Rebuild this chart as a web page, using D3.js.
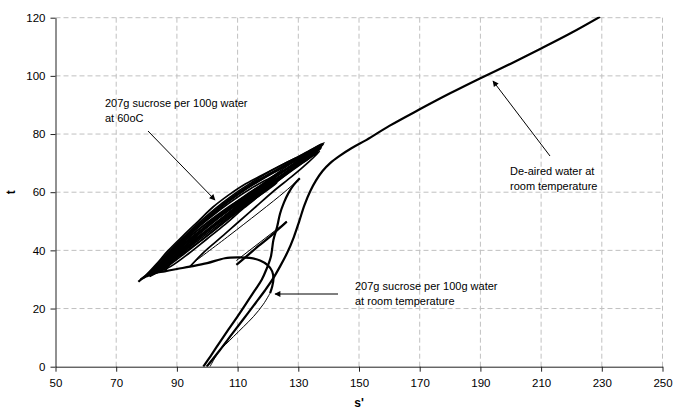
<!DOCTYPE html>
<html>
<head>
<meta charset="utf-8" />
<title>s' against t</title>
<style>
    body { margin: 0; background: #fff; }
    text { font-family: "Liberation Sans", Arial, sans-serif; fill: #000; }
</style>
</head>
<body>
<svg width="675" height="416"></svg>

<script src="https://cdn.jsdelivr.net/npm/d3@7"></script>
<script>

    // axis ticks
    var xTicks = [50, 70, 90, 110, 130, 150, 170, 190, 210, 230, 250];
    var yTicks = [0, 20, 40, 60, 80, 100, 120];

    // de-aired water, room temperature  [s', t]
    var deairedWater = [
        [99.8, 0], [104, 5.5], [108, 11], [112, 16.5], [116, 22], [119, 26.2], [121.5, 30],
        [124, 34.5], [126.5, 39.5], [128.5, 44.5], [130.3, 50], [132, 55.5], [134, 60.5],
        [135.8, 64], [138, 67.3], [140.5, 70], [143.5, 72.4], [147.5, 75.1], [152.5, 78],
        [160, 82.8], [170, 88.5], [180, 94], [190, 99.2], [200, 104.2], [210, 109.4],
        [220, 114.8], [229.4, 120.3]
    ];

    // 207g sucrose / 100g water, room temperature
    var roomLoad1 = [
        [98.7, 0], [101, 3.5], [104, 8.2], [107, 12.8], [110, 17.3], [113, 22], [115.5, 26],
        [117.9, 29.8], [119.5, 33.5], [121, 38], [121.8, 43.6], [123, 48], [124, 52.7],
        [125.3, 56.5], [126.7, 59.6], [128.5, 62.5], [130.5, 64.8]
    ];
    var roomUnload1 = [[130.5, 64.8], [125.6, 60.2], [107.5, 45.3], [95.3, 35.7]];
    var roomLoad2 = [[109.6, 35], [113, 38], [117, 41.6], [121, 45], [124, 47.8], [126.2, 49.9]];
    var roomUnload2 = [[126.2, 49.9], [109.6, 36.5]];
    var roomArc = [
        [77.3, 29.2], [79, 30.6], [82, 32], [86, 32.8], [90, 33.6], [94.3, 34.4], [100, 35.6],
        [105.8, 37.3], [110, 37.6], [114, 37.4], [117.4, 36.5], [119.8, 35], [121.4, 32.8],
        [121.8, 30], [121.4, 27.6], [120.7, 25.3]
    ];
    var roomTail = [
        [120.7, 25.3], [118.5, 21.5], [115.2, 17.2], [112, 13.8], [108.6, 10.3], [106, 7.6],
        [104.2, 5.7], [102.5, 3], [100.9, 0]
    ];

    // 207g sucrose / 100g water, 60oC : repeated cycles
    var hotCycles = [
        [[78, 30], [82, 33.5], [86, 38], [90, 42.3], [95, 47.3], [100, 52], [105, 56.3], [110, 60.2],
         [115, 63.6], [120, 66.8], [125, 69.6], [130, 72.2], [134, 74.5], [137.8, 76.6],
         [133, 73.8], [127, 69.5], [121, 65], [115, 60.3], [109, 55.5], [103, 50.5], [97, 45.3],
         [91, 40], [86, 35.5], [81, 31.5]],
        [[81, 31.5], [85, 36.2], [90, 41.5], [95, 46.4], [100, 51], [105, 55.3], [110, 59.2],
         [115, 62.8], [120, 66], [125, 69], [130, 71.8], [135, 74.6], [138.2, 76.4],
         [132, 72.4], [126, 68], [120, 63.4], [114, 58.7], [108, 53.8], [102, 48.8], [96, 43.7],
         [90, 38.6], [85, 34.4], [80, 31]],
        [[80, 31], [84, 34.8], [89, 40], [94, 45], [99, 49.6], [104, 53.8], [109, 57.6], [114, 61],
         [119, 64], [124, 66.8], [129, 69.6], [134, 72.6], [137, 74.8],
         [131, 70.4], [125, 66], [119, 61.6], [113, 57], [107, 52.3], [101, 47.4], [95, 42.4],
         [89, 37.4], [84, 33.6], [80, 31]],
        [[80, 31], [85, 35.6], [90, 40.6], [95, 45.3], [100, 49.6], [105, 53.5], [110, 57],
         [115, 60], [119, 62.2], [122.8, 63.8],
         [117, 59.4], [111, 54.6], [105, 49.8], [99, 45], [93, 40.2], [87, 35.4], [82, 32]],
        [[82, 32], [87, 37], [92, 41.8], [97, 46], [102, 50], [107, 53.8], [112, 57.2], [117, 60.2],
         [123, 63.2],
         [116, 58], [110, 53.3], [104, 48.4], [98, 43.4], [92, 38.5], [86, 33.8], [81, 31]],
        [[81, 31], [86, 36.8], [91, 42.2], [96, 47.2], [101, 51.8], [106, 56], [111, 59.8],
         [116, 63.2], [121, 66.3], [126, 69.2], [131, 72], [136, 75], [138, 76.2],
         [131, 71.2], [124, 66.6], [117, 61.8], [110, 56.8], [103, 51.6], [96, 46.2], [89, 40.6],
         [83, 33.4], [79, 30.6]],
        [[86, 32.8], [89, 37], [93, 41.8], [98, 46.6], [103, 51], [108, 55], [113, 58.6], [118, 61.9],
         [123, 65], [128, 68], [133, 71.2], [137.5, 75.2],
         [131, 70.6], [125, 66.4], [119, 62], [113, 57.4], [107, 52.6], [101, 47.6], [95, 42.2],
         [89, 36.6], [84, 32.5]],
        [[94.3, 34.4], [99, 39.5], [104.8, 44.7], [110, 49.5], [116, 55], [122, 60.5], [128, 65.5],
         [133, 70], [137, 74],
         [130, 69], [122, 63], [114, 57], [106, 51], [98, 45], [90, 38.5], [83, 32.5]],
        [[80, 31], [86, 36.5], [92, 41], [98, 45.5], [104, 50], [110, 54.5], [116, 59], [122, 63.5],
         [128, 68], [133, 71.8], [137.6, 75.6],
         [130, 69.4], [122, 62.8], [114, 56.4], [106, 50], [100, 45], [94, 40.5], [88, 36], [82, 32]],
        [[84, 32.6], [88, 36.4], [94, 41.5], [100, 46.5], [106, 51.5], [112, 56], [118, 60.5],
         [123, 64],
         [118, 59.5], [112, 54.5], [106, 49], [100, 44], [94, 39], [88, 34.5], [83, 32.2]],
        [[79, 30.5], [83, 35], [87, 39.8], [92, 45], [97, 50], [102, 55], [107, 59], [112, 62.5],
         [117, 65.3], [122, 68], [127, 70.6], [132, 73.2], [136, 75.6], [138.5, 77],
         [132, 72], [124, 66.5], [116, 61], [108, 55], [100, 48.5], [92, 42], [85, 36], [80, 31.5]],
        [[82, 32], [87, 38.4], [92, 43.8], [97, 48.6], [102, 53], [107, 57], [112, 60.6], [117, 63.8],
         [122, 66.8], [127, 69.6], [132, 72.4], [137, 75.4],
         [129, 69.8], [121, 64.2], [113, 58.2], [105, 52.2], [97, 46.2], [90, 40.4], [84, 34.6]],
        [[81, 31.2], [86, 37.4], [91, 43], [96, 47.8], [101, 52.4], [106, 56.6], [111, 60.4],
         [116, 63.8], [121, 66.6], [126, 69.4], [131, 72.2], [137.2, 76],
         [130, 70.8], [123, 65.6], [116, 60.2], [109, 54.4], [102, 48.4], [95, 42.6], [88, 37], [81, 31.2]],
        [[83, 32.4], [88, 37.6], [93, 42.4], [98, 47], [103, 51.4], [108, 55.4], [113, 59.2],
         [118, 62.6], [122.5, 65],
         [116, 60.6], [109, 55.6], [102, 50.2], [95, 44.6], [89, 39], [83, 33]]
    ];

    var notes = [
        { lines: ["207g sucrose per 100g water", "at 60oC"], at: [105, 107], from: [148, 131], to: [215, 200] },
        { lines: ["207g sucrose per 100g water", "at room temperature"], at: [355, 290], from: [338, 294], to: [275, 294] },
        { lines: ["De-aired water at", "room temperature"], at: [510, 175], from: [550, 156], to: [493, 81] }
    ];

    var svg = d3.select('svg');
    var plotL = 55.5, plotR = 662.5, plotT = 17.7, plotB = 366.7;

    var x = d3.scaleLinear().domain([50, 250]).range([plotL, plotR]);
    var y = d3.scaleLinear().domain([0, 120]).range([plotB, plotT]);

    var defs = svg.append('defs');
    defs.append('clipPath').attr('id', 'plot')
        .append('rect').attr('x', plotL).attr('y', plotT - 1)
        .attr('width', plotR - plotL).attr('height', plotB - plotT + 1);

    defs.append('marker')
        .attr('id', 'head').attr('viewBox', '0 0 10 10')
        .attr('refX', 9).attr('refY', 5)
        .attr('markerWidth', 8).attr('markerHeight', 6)
        .attr('markerUnits', 'userSpaceOnUse')
        .attr('orient', 'auto')
        .append('path').attr('d', 'M0,0 L10,5 L0,10 Z').attr('fill', '#000');

    // dashed grid
    svg.append('g').selectAll('line').data(xTicks.slice(1)).enter().append('line')
        .attr('x1', function (d) { return x(d); }).attr('x2', function (d) { return x(d); })
        .attr('y1', plotT).attr('y2', plotB)
        .attr('stroke', '#c0c0c0').attr('stroke-dasharray', '5,3');
    svg.append('g').selectAll('line').data(yTicks.slice(1)).enter().append('line')
        .attr('y1', function (d) { return y(d); }).attr('y2', function (d) { return y(d); })
        .attr('x1', plotL).attr('x2', plotR)
        .attr('stroke', '#c0c0c0').attr('stroke-dasharray', '5,3');

    // axes
    var xAxis = svg.append('g').attr('transform', 'translate(0,' + plotB + ')')
        .call(d3.axisBottom(x).tickValues(xTicks).tickSize(5).tickSizeOuter(0).tickPadding(7));
    var yAxis = svg.append('g').attr('transform', 'translate(' + plotL + ',0)')
        .call(d3.axisLeft(y).tickValues(yTicks).tickSize(5).tickSizeOuter(0).tickPadding(5));
    [xAxis, yAxis].forEach(function (a) {
        a.selectAll('path, line').attr('stroke', '#222');
        a.selectAll('text').attr('font-size', '11.5px')
            .attr('font-family', '"Liberation Sans", Arial, sans-serif').attr('fill', '#000');
    });

    svg.append('text').attr('x', (plotL + plotR) / 2).attr('y', 407)
        .attr('text-anchor', 'middle').attr('font-size', '12px').attr('font-weight', 'bold')
        .text("s'");
    svg.append('text').attr('transform', 'translate(15,' + (plotT + plotB) / 2 + ') rotate(-90)')
        .attr('text-anchor', 'middle').attr('font-size', '12px').attr('font-weight', 'bold')
        .text('t');

    // curves
    var line = d3.line()
        .x(function (d) { return x(d[0]); })
        .y(function (d) { return y(d[1]); })
        .curve(d3.curveCatmullRom.alpha(0.5));

    var curves = svg.append('g').attr('clip-path', 'url(#plot)')
        .attr('fill', 'none').attr('stroke', '#000').attr('stroke-linejoin', 'round');

    hotCycles.forEach(function (c) {
        curves.append('path').attr('d', line(c)).attr('stroke-width', 1.7);
    });
    [roomUnload1, roomUnload2, roomTail].forEach(function (c) {
        curves.append('path').attr('d', line(c)).attr('stroke-width', 1);
    });
    [roomLoad1, roomLoad2, roomArc, deairedWater].forEach(function (c) {
        curves.append('path').attr('d', line(c)).attr('stroke-width', 2.2);
    });

    // annotations
    notes.forEach(function (n) {
        svg.append('line')
            .attr('x1', n.from[0]).attr('y1', n.from[1])
            .attr('x2', n.to[0]).attr('y2', n.to[1])
            .attr('stroke', '#000').attr('stroke-width', 1)
            .attr('marker-end', 'url(#head)');
        var t = svg.append('text').attr('x', n.at[0]).attr('y', n.at[1]).attr('font-size', '11px');
        n.lines.forEach(function (s, i) {
            t.append('tspan').attr('x', n.at[0]).attr('dy', i ? 15 : 0).text(s);
        });
    });
</script>
</body>
</html>
